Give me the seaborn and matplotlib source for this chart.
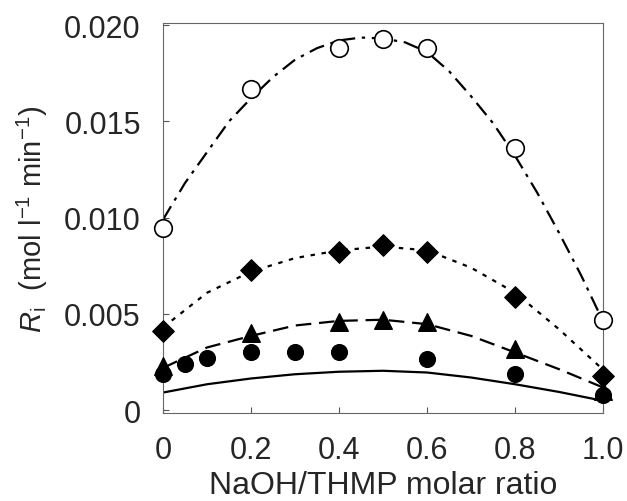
import numpy as np
import pandas as pd
import matplotlib
matplotlib.use("Agg")
import matplotlib.pyplot as plt
import seaborn as sns

# measured points
x_open = [0, 0.2, 0.4, 0.5, 0.6, 0.8, 1.0]
y_open = [0.00945, 0.0167, 0.0188, 0.0193, 0.0188, 0.0136, 0.0047]

x_diam = [0, 0.2, 0.4, 0.5, 0.6, 0.8, 1.0]
y_diam = [0.0041, 0.0073, 0.0082, 0.0086, 0.0082, 0.0059, 0.0018]

x_tri = [0, 0.2, 0.4, 0.5, 0.6, 0.8, 1.0]
y_tri = [0.0023, 0.0040, 0.0046, 0.0047, 0.0046, 0.0032, 0.0010]

x_dot = [0, 0.05, 0.1, 0.2, 0.3, 0.4, 0.6, 0.8, 1.0]
y_dot = [0.0019, 0.0024, 0.0027, 0.0030, 0.00305, 0.00305, 0.00265, 0.0019, 0.0008]

# fitted curves
x_fit_open = [0, 0.05, 0.1, 0.15, 0.2, 0.25, 0.3, 0.35, 0.4, 0.45, 0.5,
              0.55, 0.6, 0.65, 0.7, 0.75, 0.8, 0.85, 0.9, 0.95, 1.0]
y_fit_open = [0.0099, 0.0118, 0.0134, 0.0150, 0.0162, 0.0173, 0.0182, 0.0188, 0.0192, 0.01935, 0.0193,
              0.0191, 0.0186, 0.0176, 0.0163, 0.0149, 0.0132, 0.0113, 0.0092, 0.0070, 0.0046]

x_fit = [0, 0.1, 0.2, 0.3, 0.4, 0.5, 0.6, 0.7, 0.8, 0.9, 1.0]
y_fit_diam = [0.0043, 0.0061, 0.0072, 0.0079, 0.0083, 0.0085, 0.0083, 0.0074, 0.0061, 0.0042, 0.0021]
y_fit_tri = [0.0022, 0.00326, 0.00386, 0.0044, 0.00464, 0.0047, 0.00447, 0.00386, 0.0030, 0.00213, 0.00118]
y_fit_solid = [0.00092, 0.00135, 0.00165, 0.00187, 0.0020, 0.00205, 0.00196, 0.0017, 0.00135, 0.00095, 0.00049]

xticks = [0, 0.2, 0.4, 0.6, 0.8, 1.0]
xticklabels = ["0", "0.2", "0.4", "0.6", "0.8", "1.0"]
yticks = [0, 0.005, 0.010, 0.015, 0.020]
yticklabels = ["0", "0.005", "0.010", "0.015", "0.020"]

sns.set_style("ticks")
plt.rcParams['font.family'] = ['Liberation Sans', 'DejaVu Sans']
plt.rcParams['mathtext.fontset'] = 'custom'
plt.rcParams['mathtext.rm'] = 'Liberation Sans'
plt.rcParams['mathtext.it'] = 'Liberation Sans:italic'

fig = plt.figure(figsize=(6.27, 5.02), dpi=100)
ax = fig.add_axes([0.26, 0.175, 0.702, 0.777])

lw = 1.6
sns.lineplot(x=x_fit_open, y=y_fit_open, ax=ax, color="black", lw=lw,
             dashes=False, linestyle=(0, (7, 3, 1.5, 3)))
sns.lineplot(x=x_fit, y=y_fit_diam, ax=ax, color="black", lw=lw, linestyle=(0, (2, 3)))
sns.lineplot(x=x_fit, y=y_fit_tri, ax=ax, color="black", lw=lw, linestyle=(0, (7, 3.5)))
sns.lineplot(x=x_fit, y=y_fit_solid, ax=ax, color="black", lw=lw)

sns.scatterplot(x=x_open, y=y_open, ax=ax, marker="o", s=160, facecolor="white",
                edgecolor="black", linewidth=1.2, clip_on=False, zorder=5)
sns.scatterplot(x=x_diam, y=y_diam, ax=ax, marker="D", s=120, color="black",
                edgecolor="black", clip_on=False, zorder=5)
sns.scatterplot(x=x_tri, y=y_tri, ax=ax, marker="^", s=160, color="black",
                edgecolor="black", clip_on=False, zorder=5)
sns.scatterplot(x=x_dot, y=y_dot, ax=ax, marker="o", s=130, color="black",
                edgecolor="black", clip_on=False, zorder=5)

ax.set_xlim(0, 1.0)
ax.set_ylim(-0.00015, 0.0201)
ax.set_xticks(xticks)
ax.set_xticklabels(xticklabels)
ax.set_yticks(yticks)
ax.set_yticklabels(yticklabels)
ax.tick_params(direction="in", length=4, width=0.8, color="#555555", labelsize=22, pad=16)

for s in ax.spines.values():
    s.set_visible(True)
    s.set_color("#666666")
    s.set_linewidth(0.8)

ax.set_xlabel("NaOH/THMP molar ratio", fontsize=23, labelpad=3)
ax.set_ylabel(r"$R_{\mathrm{i}}$  (mol l$^{-1}$ min$^{-1}$)", fontsize=21, labelpad=10)

fig.savefig("out.png", dpi=100)
